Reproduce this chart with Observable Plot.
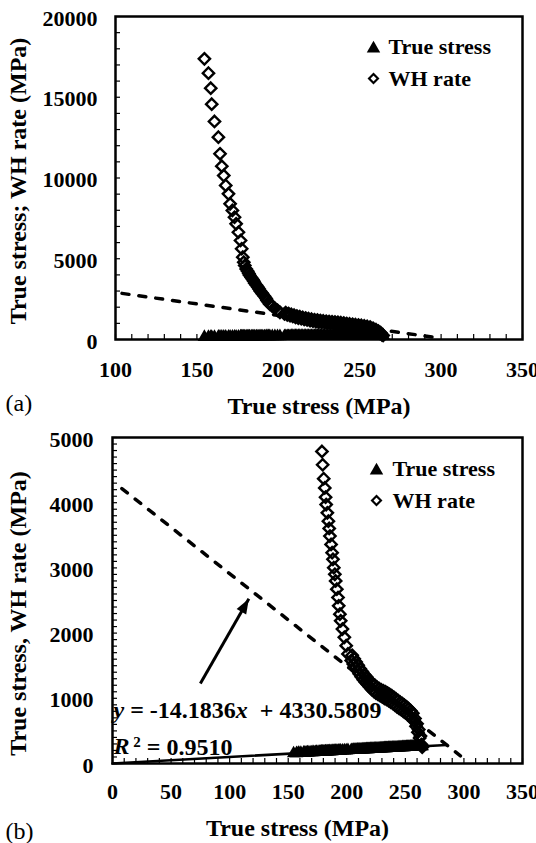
<!DOCTYPE html>
<html>
<head>
<meta charset="utf-8">
<script src="https://cdn.jsdelivr.net/npm/d3@7"></script>
<script src="https://cdn.jsdelivr.net/npm/@observablehq/plot@0.6"></script>
<style>
  body { margin: 0; background: #fff; }
  #wrap { position: relative; width: 536px; height: 843px; overflow: hidden; background: #fff; }
  .panel { position: absolute; left: 0; }
  .panel svg { display: block; }
</style>
</head>
<body>
<div id="wrap">
  <div class="panel" id="panel-a" style="top:0"></div>
  <div class="panel" id="panel-b" style="top:420px"></div>
</div>
<script>
// ---- measured points: true stress and work-hardening (WH) rate, both in MPa ----
const stress = [
  154.6, 157.1, 158.5, 159.1, 160.8, 163.2, 164.2, 165.3, 166.5, 167.7,
  169.4, 170.4, 171.8, 173.1, 174.1, 175.5, 176.8, 177.5, 178.2,
  178.8, 179.4, 180.3, 181.2, 181.9, 182.4, 183.4, 184.3, 185.0, 185.6,
  186.6, 187.5, 188.2, 188.9, 189.8, 190.5, 191.5, 192.5, 193.1, 194.1,
  194.8, 196.3, 197.9, 199.5, 201.0,
  203.8, 204.6, 205.5, 206.3, 207.2, 208.0, 208.9, 209.7, 210.6, 211.4,
  212.3, 213.2, 214.1, 215.0, 215.9, 216.8, 217.7, 218.6, 219.5, 220.4,
  221.3, 222.2, 223.1, 224.0, 224.9, 225.8, 226.7, 227.6, 228.5, 229.4,
  230.3, 231.2, 232.1, 233.0, 233.9, 234.8, 235.7, 236.6, 237.5, 238.4,
  239.3, 240.2, 241.1, 242.0, 242.9, 243.8, 244.7, 245.6, 246.5, 247.4,
  248.3, 249.2, 250.1, 251.0, 251.9, 252.8, 253.7, 254.6, 255.5, 256.4,
  257.3, 258.2, 259.1, 260.0, 260.7, 261.4, 262.2, 262.9, 263.7, 264.4
];
const whRate = [
  17380, 16490, 15560, 14570, 13500, 12530, 11500, 10730, 10150, 9540,
  9020, 8400, 7990, 7570, 7160, 6640, 6130, 5620, 5100,
  4786, 4582, 4369, 4226, 4084, 3971, 3844, 3717, 3605, 3488,
  3360, 3233, 3131, 3004, 2902, 2800, 2673, 2546, 2419, 2291,
  2189, 2062, 1935, 1807, 1680,
  1580, 1660, 1525, 1605, 1475, 1555, 1425, 1505, 1375, 1455,
  1330, 1410, 1285, 1365, 1245, 1330, 1210, 1290, 1175, 1255,
  1135, 1220, 1105, 1200, 1080, 1170, 1060, 1150, 1040, 1130,
  1020, 1115, 1000, 1100, 985, 1080, 965, 1060, 940, 1040,
  920, 1015, 895, 990, 870, 965, 845, 940, 825, 920,
  800, 895, 775, 870, 750, 840, 725, 810, 695, 770,
  650, 690, 570, 610, 480, 520, 390, 420, 290, 250
];

// ---- linear fit of the WH rate (stated on panel b) ----
const fitSlope = -14.1836;
const fitIntercept = 4330.5809;
const fitR2 = 0.9510;
const fitSpanA = [104, 300];   // stress range the fit line covers on panel a
const fitSpanB = [8, 297];     // ... and on panel b
const stressTrendSpan = [0, 285]; // straight trend through the true-stress series (panel b)

// annotation arrow on panel b, in data units (stress, MPa)
const arrowTail = [75, 1226];
const arrowHead = [116.4, 2528];

// ---- axis ticks ----
const xTicksA = [100, 150, 200, 250, 300, 350];
const yTicksA = [0, 5000, 10000, 15000, 20000];
const xTicksB = [0, 50, 100, 150, 200, 250, 300, 350];
const yTicksB = [0, 1000, 2000, 3000, 4000, 5000];

// ---- text ----
const seriesNames = ["True stress", "WH rate"];
const xTitle = "True stress (MPa)";
const yTitleA = "True stress; WH rate (MPa)";
const yTitleB = "True stress, WH rate (MPa)";
const panelTags = ["(a)", "(b)"];

// ---- assembled tables ----
const rows = stress.map((s, i) => ({stress: s, rate: whRate[i]}));
const fitLine = ([a, b]) => [a, b].map(s => ({stress: s, rate: fitSlope * s + fitIntercept}));
const stepRange = (a, b, step) => d3.range(a, b + step / 2, step);

const serif = '"Liberation Serif", "Times New Roman", Times, serif';
const fmt = d => String(d);

// slim filled arrowhead whose tip sits on the anchor point, pointing up
const arrowheadSymbol = {
  draw(context) {
    context.moveTo(0, 0);
    context.lineTo(5.5, 15);
    context.lineTo(-5.5, 15);
    context.closePath();
  }
};

function legendMarks(dx, dy, gap, rowGap) {
  const text = {frameAnchor: "top-left", textAnchor: "start", lineAnchor: "middle", fontSize: 22, fontWeight: "bold", fill: "#000"};
  return [
    Plot.dot([0], {frameAnchor: "top-left", dx, dy: dy + 2, symbol: "triangle", r: 5, fill: "#000"}),
    Plot.text([seriesNames[0]], {...text, dx: dx + gap, dy}),
    Plot.dot([0], {frameAnchor: "top-left", dx, dy: dy + rowGap, symbol: "diamond2", r: 4, stroke: "#000", strokeWidth: 2.2, fill: "none"}),
    Plot.text([seriesNames[1]], {...text, dx: dx + gap, dy: dy + rowGap})
  ];
}

function axes(xTicks, yTicks, xMinor, yMinor, xPad, yPad) {
  return [
    Plot.axisX({ticks: xTicks, tickSize: 0, tickPadding: xPad, tickFormat: fmt, fontSize: 22, fontWeight: "bold"}),
    Plot.axisX({ticks: xMinor, tickSize: -5, tickFormat: () => "", strokeWidth: 1.2}),
    Plot.axisY({ticks: yTicks, tickSize: 0, tickPadding: yPad, tickFormat: fmt, fontSize: 22, fontWeight: "bold", dy: 2}),
    Plot.axisY({ticks: yMinor, tickSize: -5, tickFormat: () => "", strokeWidth: 1.2})
  ];
}

const baseStyle = {fontFamily: serif, fontSize: "22px", fontWeight: "bold", color: "#000", background: "#fff", overflow: "visible"};
const diamondStyle = {symbol: "diamond2", r: 5.1, stroke: "#000", strokeWidth: 2.4, fill: "none"};
const triangleStyle = {symbol: "triangle", r: 5, fill: "#000"};
const titleText = {textAnchor: "middle", lineAnchor: "middle", fontSize: 24, fontWeight: "bold", fill: "#000"};
const tagText = {frameAnchor: "bottom-left", textAnchor: "start", lineAnchor: "middle", fontSize: 24, fontWeight: "normal", fill: "#000"};

// ---------- panel (a) ----------
const plotA = Plot.plot({
  width: 536, height: 420,
  marginLeft: 115, marginRight: 14, marginTop: 16, marginBottom: 81,
  x: {domain: [100, 350], label: null},
  y: {domain: [0, 20000], label: null},
  style: baseStyle,
  marks: [
    ...axes(xTicksA, yTicksA, stepRange(100, 350, 10), stepRange(0, 20000, 1000), 22, 18),
    Plot.line(fitLine(fitSpanA), {x: "stress", y: "rate", stroke: "#000", strokeWidth: 3.5, strokeDasharray: "7,10"}),
    Plot.dot(rows, {x: "stress", y: "stress", ...triangleStyle}),
    Plot.dot(rows, {x: "stress", y: "rate", ...diamondStyle}),
    Plot.frame({stroke: "#000", strokeWidth: 2.5}),
    ...legendMarks(258, 30, 15, 32),
    Plot.text([xTitle], {...titleText, frameAnchor: "bottom", dy: 67}),
    Plot.text([yTitleA], {...titleText, frameAnchor: "left", dx: -97, dy: 3, rotate: -90}),
    Plot.text([panelTags[0]], {...tagText, dx: -110, dy: 64})
  ]
});

// ---------- panel (b) ----------
const layoutB = {width: 536, height: 423, marginLeft: 112, marginRight: 14, marginTop: 17, marginBottom: 80};
const xDomainB = [0, 350], yDomainB = [0, 5000];
const rowsB = rows.filter(d => d.rate <= yDomainB[1]);
const eqLabel = `y = ${fitSlope}x + ${fitIntercept}`;
const r2Label = `R 2 = ${fitR2.toFixed(4)}`;

// screen direction of the annotation arrow (degrees clockwise from up)
const kx = (layoutB.width - layoutB.marginLeft - layoutB.marginRight) / (xDomainB[1] - xDomainB[0]);
const ky = (layoutB.height - layoutB.marginTop - layoutB.marginBottom) / (yDomainB[1] - yDomainB[0]);
const arrowAngle = Math.atan2((arrowHead[0] - arrowTail[0]) * kx, (arrowHead[1] - arrowTail[1]) * ky) * 180 / Math.PI;

const plotB = Plot.plot({
  ...layoutB,
  x: {domain: xDomainB, label: null},
  y: {domain: yDomainB, label: null},
  style: baseStyle,
  marks: [
    ...axes(xTicksB, yTicksB, stepRange(0, 350, 10), stepRange(0, 5000, 100), 20, 19),
    Plot.line(fitLine(fitSpanB), {x: "stress", y: "rate", stroke: "#000", strokeWidth: 3.5, strokeDasharray: "7,10"}),
    Plot.line(stressTrendSpan.map(s => ({stress: s})), {x: "stress", y: "stress", stroke: "#000", strokeWidth: 2.5}),
    Plot.dot(rows, {x: "stress", y: "stress", ...triangleStyle}),
    Plot.dot(rowsB, {x: "stress", y: "rate", ...diamondStyle}),
    Plot.link([0], {x1: () => arrowTail[0], y1: () => arrowTail[1], x2: () => arrowHead[0], y2: () => arrowHead[1],
      stroke: "#000", strokeWidth: 3, insetEnd: 8}),
    Plot.dot([0], {x: () => arrowHead[0], y: () => arrowHead[1], symbol: arrowheadSymbol, rotate: arrowAngle, fill: "#000", stroke: "none"}),
    Plot.frame({stroke: "#000", strokeWidth: 2.5}),
    ...legendMarks(264, 31, 16, 32),
    Plot.text([eqLabel], {frameAnchor: "bottom-left", textAnchor: "start", lineAnchor: "middle", dx: 1, dy: -53, fontSize: 24, fontWeight: "bold", fill: "#000"}),
    Plot.text([r2Label], {frameAnchor: "bottom-left", textAnchor: "start", lineAnchor: "middle", dx: 1, dy: -17, fontSize: 24, fontWeight: "bold", fill: "#000"}),
    Plot.text([xTitle], {...titleText, frameAnchor: "bottom", dx: -20, dy: 65}),
    Plot.text([yTitleB], {...titleText, frameAnchor: "left", dx: -94, dy: 13, rotate: -90}),
    Plot.text([panelTags[1]], {...tagText, dx: -107, dy: 68})
  ]
});

// italic variables and superscript in the fit labels
function styleFitLabels(svg) {
  d3.select(svg).selectAll("text").each(function () {
    const t = this.textContent;
    const sel = d3.select(this);
    if (t === eqLabel) {
      sel.text("").style("white-space", "pre");
      sel.append("tspan").attr("font-style", "italic").text("y");
      sel.append("tspan").text(` = ${fitSlope}`);
      sel.append("tspan").attr("font-style", "italic").text("x");
      sel.append("tspan").text(`  + ${fitIntercept}`);
    } else if (t === r2Label) {
      sel.text("").style("white-space", "pre");
      sel.append("tspan").attr("font-style", "italic").text("R");
      sel.append("tspan").attr("font-size", 15).attr("dy", "-0.45em").text(" 2");
      sel.append("tspan").attr("dy", "0.3em").text(` = ${fitR2.toFixed(4)}`);
    }
  });
}
styleFitLabels(plotB);

document.getElementById("panel-a").append(plotA);
document.getElementById("panel-b").append(plotB);
</script>
</body>
</html>
